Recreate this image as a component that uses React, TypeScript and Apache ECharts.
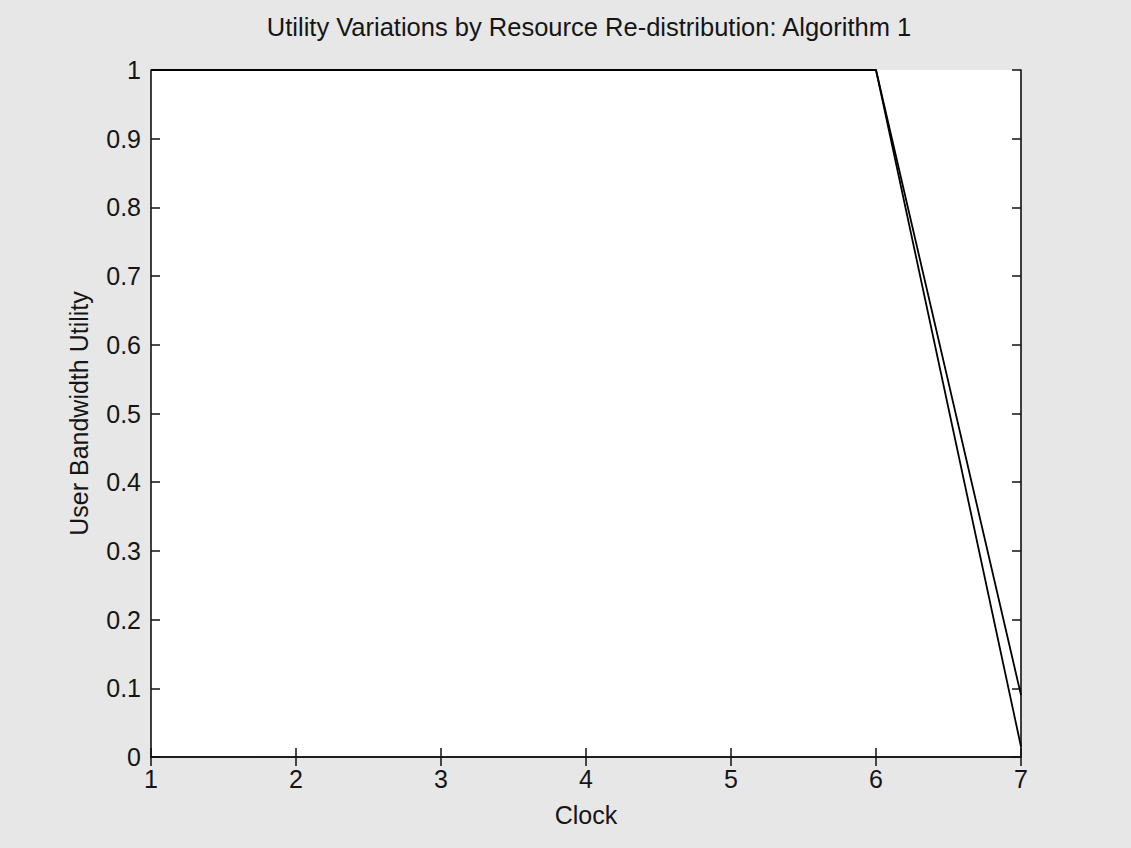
import React, { useEffect, useRef } from "react";
import * as echarts from "echarts";

const clock = [1, 2, 3, 4, 5, 6, 7];
const userA = [1, 1, 1, 1, 1, 1, 0.09];
const userB = [1, 1, 1, 1, 1, 1, 0.015];
const xTicks = [1, 2, 3, 4, 5, 6, 7];
const yTicks = [0, 0.1, 0.2, 0.3, 0.4, 0.5, 0.6, 0.7, 0.8, 0.9, 1];

const FONT = "'Liberation Sans', Arial, Helvetica, sans-serif";
const TXT = "#151515";

export default function App() {
  const ref = useRef<HTMLDivElement>(null);
  useEffect(() => {
    if (!ref.current) return;
    const chart = echarts.init(ref.current, undefined, { renderer: "svg" });
    const axisLine = { show: true, lineStyle: { color: "#111", width: 1.6 } };
    const axisTick = { show: true, inside: true, length: 9, lineStyle: { color: "#111", width: 1.5 } };
    const text = { fontFamily: FONT, fontSize: 25, color: TXT };
    const fmtY = (v: number) => {
      const t = yTicks.find((k) => Math.abs(k - v) < 1e-9);
      return t === undefined ? "" : String(parseFloat(t.toFixed(1)));
    };
    chart.setOption({
      animation: false,
      backgroundColor: "#e7e7e7",
      title: {
        text: "Utility Variations by Resource Re-distribution: Algorithm 1",
        left: 584,
        top: 9,
        textAlign: "center",
        textStyle: { ...text, fontSize: 25.5, fontWeight: "normal" },
      },
      grid: {
        left: 151,
        right: 110,
        top: 70,
        bottom: 91,
        show: true,
        backgroundColor: "#ffffff",
        borderWidth: 0,
      },
      xAxis: [
        {
          type: "value",
          min: xTicks[0],
          max: xTicks[xTicks.length - 1],
          interval: 1,
          position: "bottom",
          axisLine,
          axisTick,
          splitLine: { show: false },
          axisLabel: { ...text, margin: 9 },
          name: "Clock",
          nameLocation: "middle",
          nameGap: 45,
          nameTextStyle: text,
        },
        {
          type: "value",
          min: xTicks[0],
          max: xTicks[xTicks.length - 1],
          interval: 1,
          position: "top",
          axisLine,
          axisTick,
          splitLine: { show: false },
          axisLabel: { show: false },
        },
      ],
      yAxis: [
        {
          type: "value",
          min: 0,
          max: 1,
          interval: 0.1,
          position: "left",
          axisLine,
          axisTick,
          splitLine: { show: false },
          axisLabel: { ...text, margin: 10, formatter: fmtY },
          name: "User Bandwidth Utility",
          nameLocation: "middle",
          nameGap: 60,
          nameTextStyle: text,
        },
        {
          type: "value",
          min: 0,
          max: 1,
          interval: 0.1,
          position: "right",
          axisLine,
          axisTick,
          splitLine: { show: false },
          axisLabel: { show: false },
        },
      ],
      series: [
        {
          type: "line",
          xAxisIndex: 0,
          yAxisIndex: 0,
          data: clock.map((c, i) => [c, userA[i]]),
          showSymbol: false,
          symbol: "none",
          lineStyle: { color: "#000", width: 1.8 },
          z: 3,
        },
        {
          type: "line",
          xAxisIndex: 0,
          yAxisIndex: 0,
          data: clock.map((c, i) => [c, userB[i]]),
          showSymbol: false,
          symbol: "none",
          lineStyle: { color: "#000", width: 1.8 },
          z: 3,
        },
      ],
    });
    return () => chart.dispose();
  }, []);
  return (
    <div
      ref={ref}
      style={{ position: "fixed", left: 0, top: 0, width: 1131, height: 848 }}
    />
  );
}
